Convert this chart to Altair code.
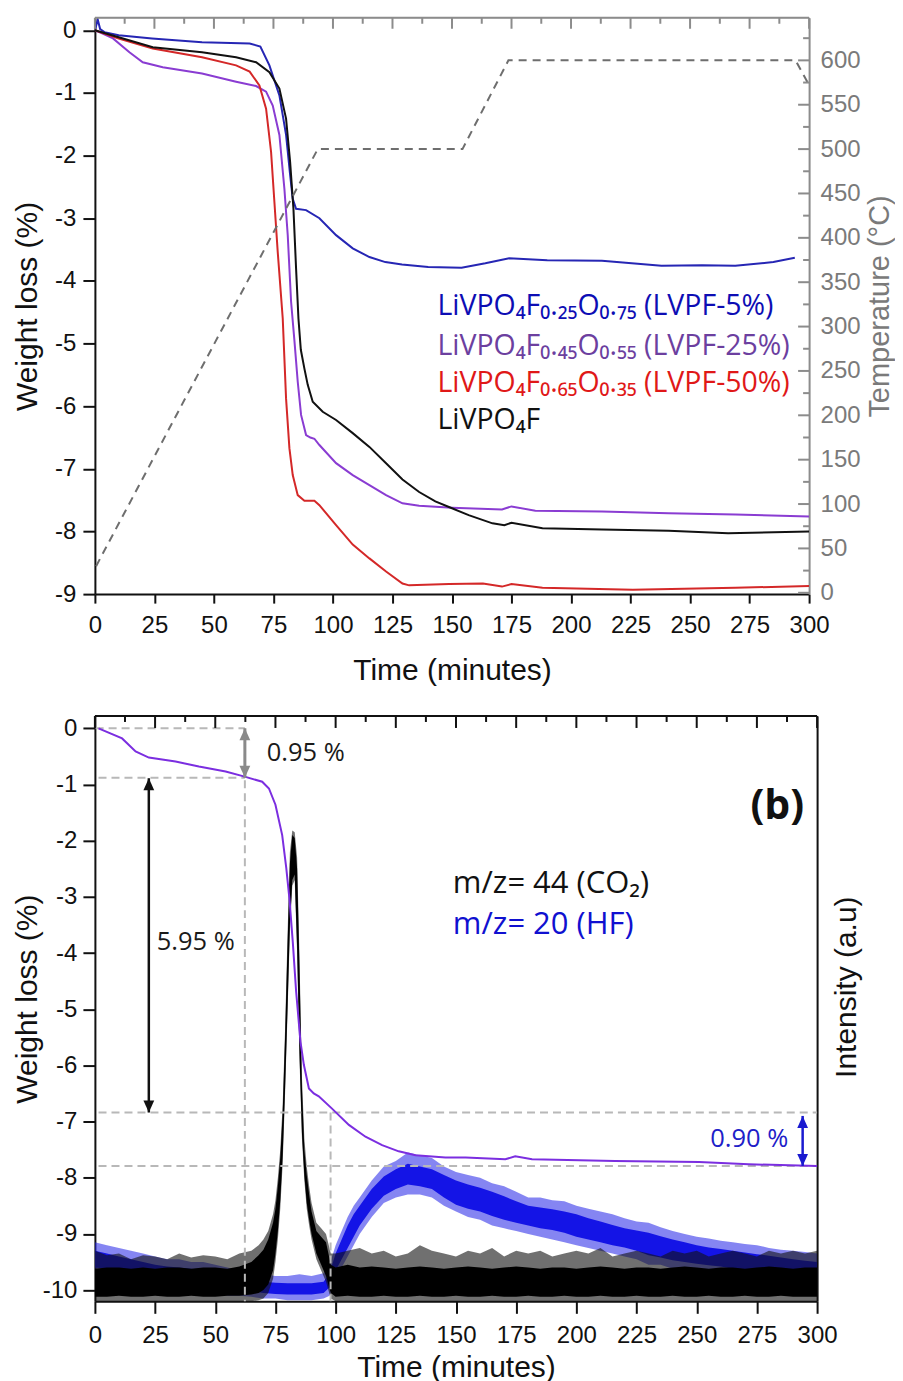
import altair as alt
import pandas as pd

AX_FONT = "Liberation Sans"
TX_FONT = "Open Sans"

WA, HA = 715, 577
WB, HB = 723, 586

X_DOMAIN = [0, 300]
WA_DOMAIN = [-9, 0.2]
T_DOMAIN = [-1.5, 648]
WB_DOMAIN = [-10.2, 0.22]

# ---------------- tick values ----------------
x_tick_values = [0, 12.5, 25, 37.5, 50, 62.5, 75, 87.5, 100, 112.5, 125, 137.5, 150, 162.5,
                 175, 187.5, 200, 212.5, 225, 237.5, 250, 262.5, 275, 287.5, 300]
x_major = [0, 25, 50, 75, 100, 125, 150, 175, 200, 225, 250, 275, 300]
x_minor = [12.5, 37.5, 62.5, 87.5, 112.5, 137.5, 162.5, 187.5, 212.5, 237.5, 262.5, 287.5]
ya_tick_values = [-9, -8.5, -8, -7.5, -7, -6.5, -6, -5.5, -5, -4.5, -4, -3.5, -3, -2.5, -2,
                  -1.5, -1, -0.5, 0]
yb_tick_values = [-10, -9.5, -9, -8.5, -8, -7.5, -7, -6.5, -6, -5.5, -5, -4.5, -4, -3.5, -3,
                  -2.5, -2, -1.5, -1, -0.5, 0]
temp_major = [0, 50, 100, 150, 200, 250, 300, 350, 400, 450, 500, 550, 600]
temp_minor = [25, 75, 125, 175, 225, 275, 325, 375, 425, 475, 525, 575, 625]

# ---------------- panel (a) data ----------------
SERIES_A = ["LVPF-5%", "LVPF-25%", "LVPF-50%", "LiVPO4F"]
COLORS_A = ["#2626b4", "#8a3cd2", "#d42828", "#111111"]

blue_t = [0, 1.2, 2.2, 4, 10, 24, 45, 65, 69.5, 73.3, 77.5, 80.3, 82, 83.1, 84.5, 88.7, 94.3,
          101.3, 108.3, 115.3, 122, 129, 140, 154, 164, 174, 190, 213, 238, 255, 269, 285, 294]
blue_w = [0, 0.17, 0.02, -0.03, -0.08, -0.13, -0.19, -0.21, -0.26, -0.56, -1.04, -1.67, -2.31,
          -2.69, -2.85, -2.87, -3.0, -3.27, -3.48, -3.62, -3.70, -3.74, -3.78, -3.79, -3.72,
          -3.64, -3.67, -3.68, -3.76, -3.75, -3.76, -3.70, -3.63]

purple_t = [0, 3, 7.6, 14.5, 20.1, 28.5, 45, 59.3, 67.7, 71.9, 74.7, 77.5, 79.6, 81, 82.4, 83.8,
            85.2, 86.6, 88.7, 90.5, 92.2, 94.3, 101.3, 108.3, 115.3, 122.3, 129.2, 136.2, 150,
            171, 175, 185, 213, 241, 269, 300]
purple_w = [0, -0.05, -0.13, -0.35, -0.51, -0.59, -0.69, -0.82, -0.89, -0.98, -1.2, -1.67, -2.53,
            -3.27, -4.33, -4.95, -5.61, -6.14, -6.46, -6.5, -6.52, -6.62, -6.91, -7.10, -7.26,
            -7.42, -7.55, -7.59, -7.62, -7.65, -7.60, -7.67, -7.68, -7.71, -7.73, -7.76]

red_t = [0, 10, 24.3, 45, 59.3, 65, 69.1, 71.9, 74, 75.4, 76.8, 78.9, 80.3, 81.7, 83.1, 85.2, 88,
         92.2, 94.3, 101.3, 108.3, 115.3, 122.3, 129.2, 132, 148.8, 163, 171, 175, 188, 226, 269, 300]
red_w = [0, -0.13, -0.29, -0.43, -0.56, -0.66, -0.88, -1.25, -1.94, -2.74, -3.54, -4.60, -5.88,
         -6.67, -7.10, -7.42, -7.51, -7.51, -7.58, -7.90, -8.21, -8.43, -8.64, -8.83, -8.86, -8.84,
         -8.83, -8.88, -8.84, -8.90, -8.93, -8.90, -8.87]

black_t = [0, 10, 24.3, 45, 59.3, 67.7, 73.3, 77.5, 80.3, 82, 83.4, 84.5, 85.5, 86.5, 88, 89.4,
           91.5, 95.7, 101.3, 108.3, 115.3, 122.3, 129.2, 136.2, 143, 150, 157, 167, 172, 175,
           188, 213, 241, 266, 300]
black_w = [0, -0.11, -0.27, -0.35, -0.43, -0.51, -0.67, -0.93, -1.41, -2.10, -2.85, -3.80, -4.6,
           -5.1, -5.4, -5.66, -5.93, -6.09, -6.22, -6.43, -6.65, -6.91, -7.17, -7.37, -7.52,
           -7.63, -7.74, -7.87, -7.9, -7.86, -7.95, -7.97, -7.99, -8.03, -8.0]

temp_t = [0.5, 93.6, 154.4, 173.7, 294.3, 300]
temp_v = [30, 500, 500, 600, 600, 572]

legend_a_text = ["LiVPO₄F₀.₂₅O₀.₇₅ (LVPF-5%)", "LiVPO₄F₀.₄₅O₀.₅₅ (LVPF-25%)",
                 "LiVPO₄F₀.₆₅O₀.₃₅ (LVPF-50%)", "LiVPO₄F"]
legend_a_t = [143.9, 143.9, 143.9, 143.9]
legend_a_w = [-4.54, -5.19, -5.78, -6.37]
legend_a_col = ["#0d0db4", "#6c3f9f", "#e01818", "#111111"]

# ---------------- panel (b) data ----------------
tga_b_t = [1.5, 11.3, 16.9, 22.4, 33.5, 43.2, 54.3, 62.2, 69.5, 72.3, 75, 77.8, 79.5, 80.8, 82.2,
           83.6, 85.4, 86.8, 88.9, 90.9, 93, 98.5, 105.5, 112.4, 119.3, 126.2, 133.2, 145.6, 154,
           170.5, 174.6, 181.6, 216, 251, 271.6, 300]
tga_b_w = [0, -0.18, -0.41, -0.52, -0.59, -0.68, -0.77, -0.86, -0.95, -1.07, -1.36, -1.90, -2.49,
           -3.03, -3.80, -4.69, -5.58, -5.99, -6.41, -6.50, -6.55, -6.77, -7.06, -7.27, -7.42,
           -7.53, -7.60, -7.64, -7.64, -7.67, -7.62, -7.67, -7.70, -7.72, -7.76, -7.79]

hf_t = [0, 5, 10, 15, 20, 25, 30, 35, 40, 45, 50, 55, 60, 65, 70, 75, 80, 85, 90, 95,
        97.5, 100, 102.5, 105, 107.5, 110,
        115, 120, 125, 130, 135, 140, 145, 150, 155, 160,
        165, 170, 175, 180, 185, 190, 195, 200, 205, 210,
        215, 220, 225, 230, 235, 240, 245, 250, 255, 260,
        265, 270, 275, 280, 285, 290, 295, 300]
hf_lo = [-9.6, -9.62, -9.68, -9.72, -9.75, -9.8, -9.82, -9.85, -9.88, -9.9, -9.92, -9.95, -9.98,
         -10.02, -10.05, -10.07, -10.08, -10.08, -10.08, -10.05,
         -9.95, -9.65, -9.45, -9.25, -9.05, -8.85,
         -8.55, -8.32, -8.2, -8.12, -8.15, -8.2, -8.35, -8.48, -8.55, -8.6,
         -8.68, -8.75, -8.8, -8.85, -8.9, -8.93, -8.98, -9.05, -9.1, -9.15,
         -9.2, -9.24, -9.3, -9.38, -9.42, -9.47, -9.5, -9.53, -9.56, -9.58,
         -9.62, -9.65, -9.68, -9.71, -9.74, -9.77, -9.78, -9.8]
hf_hi = [-9.3, -9.35, -9.4, -9.45, -9.5, -9.55, -9.58, -9.6, -9.62, -9.65, -9.68, -9.72, -9.78,
         -9.82, -9.85, -9.87, -9.88, -9.88, -9.88, -9.85,
         -9.7, -9.35, -9.1, -8.85, -8.65, -8.5,
         -8.2, -7.98, -7.85, -7.75, -7.8, -7.85, -7.95, -8.05, -8.12, -8.18,
         -8.25, -8.33, -8.42, -8.5, -8.53, -8.56, -8.6, -8.65, -8.72, -8.78,
         -8.84, -8.9, -8.94, -8.98, -9.04, -9.1, -9.15, -9.2, -9.24, -9.27,
         -9.3, -9.33, -9.36, -9.39, -9.42, -9.45, -9.48, -9.5]
hf_lo2 = [-9.7, -9.75, -9.8, -9.85, -9.9, -9.95, -9.95, -10.0, -10.0, -10.05, -10.05, -10.1, -10.1,
          -10.12, -10.15, -10.15, -10.18, -10.18, -10.18, -10.15,
          -10.1, -9.8, -9.6, -9.4, -9.2, -9.0,
          -8.7, -8.45, -8.35, -8.3, -8.3, -8.35, -8.5, -8.6, -8.7, -8.75,
          -8.85, -8.9, -8.95, -9.0, -9.05, -9.1, -9.15, -9.2, -9.25, -9.3,
          -9.35, -9.4, -9.45, -9.55, -9.55, -9.62, -9.65, -9.68, -9.7, -9.72,
          -9.76, -9.8, -9.82, -9.85, -9.88, -9.9, -9.92, -9.95]
hf_hi2 = [-9.15, -9.2, -9.25, -9.3, -9.35, -9.4, -9.45, -9.45, -9.5, -9.5, -9.55, -9.6, -9.65,
          -9.7, -9.72, -9.75, -9.75, -9.72, -9.75, -9.7,
          -9.55, -9.2, -8.95, -8.7, -8.5, -8.35,
          -8.05, -7.8, -7.7, -7.55, -7.6, -7.65, -7.8, -7.9, -7.95, -8.0,
          -8.1, -8.15, -8.25, -8.35, -8.35, -8.4, -8.42, -8.5, -8.55, -8.6,
          -8.65, -8.72, -8.78, -8.8, -8.88, -8.95, -9.0, -9.05, -9.08, -9.12,
          -9.15, -9.18, -9.2, -9.25, -9.28, -9.3, -9.32, -9.35]

co2_t = [0, 5, 10, 15, 20, 25, 30, 35, 40, 45, 50, 55, 60, 65,
         68, 70, 72, 74,
         75, 76, 77, 78, 79, 80, 81, 82, 83, 84, 85, 86, 87, 88, 89, 90,
         92, 94, 96, 98,
         100, 105, 110, 115, 120, 125, 130, 135, 140, 145,
         150, 155, 160, 165, 170, 175, 180, 185, 190, 195,
         200, 205, 210, 215, 220, 225, 230, 235, 240, 245,
         250, 255, 260, 265, 270, 275, 280, 285, 290, 295, 300]
co2_lo = [-10.12, -10.12, -10.1, -10.12, -10.12, -10.1, -10.12, -10.12, -10.1, -10.12, -10.12,
          -10.1, -10.1, -10.08,
          -10.05, -10.0, -9.9, -9.65,
          -9.35, -8.95, -8.4, -7.6, -6.4, -5.0, -3.5, -2.7, -2.6, -3.9, -5.8, -7.2, -7.95, -8.45,
          -8.75, -9.0,
          -9.35, -9.55, -9.75, -10.05,
          -10.12, -10.1, -10.12, -10.12, -10.1, -10.12, -10.12, -10.1, -10.12, -10.12,
          -10.1, -10.12, -10.12, -10.1, -10.12, -10.12, -10.1, -10.12, -10.12, -10.1,
          -10.12, -10.12, -10.1, -10.12, -10.12, -10.1, -10.12, -10.12, -10.1, -10.12,
          -10.12, -10.1, -10.12, -10.12, -10.1, -10.12, -10.12, -10.1, -10.12, -10.12, -10.12]
co2_hi = [-9.62, -9.6, -9.6, -9.62, -9.6, -9.62, -9.6, -9.6, -9.62, -9.6, -9.6, -9.62, -9.58, -9.5,
          -9.38, -9.28, -9.1, -8.8,
          -8.55, -8.15, -7.65, -6.85, -5.5, -3.9, -2.4, -1.9, -1.95, -2.5, -4.3, -6.4, -7.5, -7.95,
          -8.3, -8.6,
          -8.95, -9.05, -9.15, -9.55,
          -9.6, -9.55, -9.6, -9.58, -9.6, -9.62, -9.6, -9.58, -9.6, -9.62,
          -9.6, -9.58, -9.6, -9.62, -9.6, -9.58, -9.6, -9.62, -9.6, -9.6,
          -9.62, -9.6, -9.58, -9.6, -9.62, -9.6, -9.6, -9.62, -9.6, -9.58,
          -9.6, -9.62, -9.6, -9.6, -9.62, -9.6, -9.58, -9.6, -9.62, -9.6, -9.6]
co2_lo2 = [-10.2, -10.2, -10.2, -10.2, -10.2, -10.2, -10.2, -10.2, -10.2, -10.2, -10.2, -10.2,
           -10.2, -10.2,
           -10.18, -10.15, -10.05, -9.8,
           -9.5, -9.1, -8.55, -7.75, -6.5, -5.1, -3.6, -2.8, -2.7, -4.0, -5.9, -7.3, -8.05, -8.55,
           -8.85, -9.1,
           -9.45, -9.65, -9.85, -10.15,
           -10.2, -10.2, -10.2, -10.2, -10.2, -10.2, -10.2, -10.2, -10.2, -10.2,
           -10.2, -10.2, -10.2, -10.2, -10.2, -10.2, -10.2, -10.2, -10.2, -10.2,
           -10.2, -10.2, -10.2, -10.2, -10.2, -10.2, -10.2, -10.2, -10.2, -10.2,
           -10.2, -10.2, -10.2, -10.2, -10.2, -10.2, -10.2, -10.2, -10.2, -10.2, -10.2]
co2_hi2 = [-9.3, -9.38, -9.35, -9.45, -9.38, -9.4, -9.45, -9.35, -9.42, -9.38, -9.4, -9.45, -9.35,
           -9.3,
           -9.2, -9.1, -8.95, -8.65,
           -8.4, -8.0, -7.5, -6.7, -5.35, -3.7, -2.2, -1.82, -1.85, -2.3, -4.1, -6.2, -7.3, -7.8,
           -8.15, -8.45,
           -8.8, -8.9, -9.0, -9.35,
           -9.35, -9.3, -9.25, -9.35, -9.3, -9.4, -9.35, -9.2, -9.3, -9.35,
           -9.4, -9.3, -9.35, -9.25, -9.4, -9.3, -9.35, -9.3, -9.4, -9.35,
           -9.3, -9.35, -9.25, -9.4, -9.35, -9.3, -9.35, -9.4, -9.3, -9.35,
           -9.3, -9.4, -9.35, -9.3, -9.35, -9.4, -9.3, -9.35, -9.3, -9.35, -9.3]

# dashed guide lines in (b)
guide_h_x0 = [0.3, 1.5, 1.5, 1.5]
guide_h_x1 = [62.3, 62.3, 300, 300]
guide_h_y = [0, -0.88, -6.84, -7.79]
guide_v_x = [62.3, 97.9]
guide_v_y0 = [0, -6.84]
guide_v_y1 = [-10.2, -10.2]

# arrows in (b)
arrow_x = [62.3, 22.4, 294]
arrow_top = [0, -0.89, -6.9]
arrow_bot = [-0.88, -6.84, -7.79]
arrow_col = ["#8a8a8a", "#111111", "#1a1ad0"]
arrow_wid = [3, 2.5, 2.5]

# text annotations in (b)
ann_left_text = ["0.95 %", "5.95 %", "m/z= 44 (CO₂)", "m/z= 20 (HF)"]
ann_left_t = [71.4, 25.7, 148.7, 148.7]
ann_left_w = [-0.44, -3.80, -2.78, -3.51]
ann_left_col = ["#1a1a1a", "#1a1a1a", "#111111", "#1010d0"]
ann_left_size = [25.5, 25.5, 31, 31]

# ---------------- helpers ----------------
xs = alt.Scale(domain=X_DOMAIN, nice=False, zero=False)
ya = alt.Scale(domain=WA_DOMAIN, nice=False, zero=False)
ts = alt.Scale(domain=T_DOMAIN, nice=False, zero=False)
yb = alt.Scale(domain=WB_DOMAIN, nice=False, zero=False)
yi = alt.Scale(domain=WB_DOMAIN, nice=False, zero=False)

LABEL_FS = 24
TITLE_FS = 30


def x_axis(major_len, minor_len, label_pad, title_pad):
    return alt.Axis(
        values=x_tick_values, title="Time (minutes)",
        labelExpr="datum.value % 25 === 0 ? '' + datum.value : ''",
        tickSize={"condition": {"test": "datum.value % 25 === 0", "value": major_len}, "value": minor_len},
        tickWidth=2, tickColor="#111", domainColor="#111", domainWidth=2,
        labelPadding=label_pad, titlePadding=title_pad, labelFlush=False, labelOverlap=False,
        labelFont=AX_FONT, labelFontSize=LABEL_FS, titleFont=AX_FONT, titleFontSize=TITLE_FS,
        titleFontWeight="normal", labelColor="#111", titleColor="#111", grid=False)


def y_axis(values, label_pad, title_pad, **extra):
    return alt.Axis(
        values=values, title="Weight loss (%)", orient="left",
        labelExpr="datum.value % 1 === 0 ? '' + datum.value : ''",
        tickSize={"condition": {"test": "datum.value % 1 === 0", "value": 12}, "value": 6},
        tickWidth=2, tickColor="#111", domainColor="#111", domainWidth=2,
        labelPadding=label_pad, titlePadding=title_pad, labelFlush=False, labelOverlap=False,
        labelFont=AX_FONT, labelFontSize=LABEL_FS, titleFont=AX_FONT, titleFontSize=TITLE_FS,
        titleFontWeight="normal", labelColor="#111", titleColor="#111", grid=False, **extra)


def top_frame(width, color, major_len, minor_len):
    border = alt.Chart(pd.DataFrame({"k": [0]})).mark_rule(color=color, strokeWidth=2).encode(
        x=alt.value(0), x2=alt.value(width), y=alt.value(0))
    maj = alt.Chart(pd.DataFrame({"v": x_major})).mark_rule(color=color, strokeWidth=2).encode(
        x=alt.X("v:Q", scale=xs), y=alt.value(0), y2=alt.value(major_len))
    mnr = alt.Chart(pd.DataFrame({"v": x_minor})).mark_rule(color=color, strokeWidth=2).encode(
        x=alt.X("v:Q", scale=xs), y=alt.value(0), y2=alt.value(minor_len))
    return [border, maj, mnr]


# ================= PANEL (a) =================
frames = []
for name, tt, ww in zip(SERIES_A, [blue_t, purple_t, red_t, black_t],
                        [blue_w, purple_w, red_w, black_w]):
    frames.append(pd.DataFrame({"t": tt, "w": ww, "s": name}))
dfA = pd.concat(frames, ignore_index=True)

lines_a = alt.Chart(dfA).mark_line(strokeWidth=2, clip=True).encode(
    x=alt.X("t:Q", scale=xs, axis=x_axis(9, 5, 10, 18)),
    y=alt.Y("w:Q", scale=ya, axis=y_axis(ya_tick_values, 7, 12)),
    color=alt.Color("s:N", scale=alt.Scale(domain=SERIES_A, range=COLORS_A), legend=None),
    detail="s:N",
)

legend_df = pd.DataFrame({"t": legend_a_t, "w": legend_a_w, "label": legend_a_text, "c": legend_a_col})
legend_a = alt.Chart(legend_df).mark_text(align="left", baseline="alphabetic", font=TX_FONT,
                                          fontSize=28.5).encode(
    x=alt.X("t:Q", scale=xs), y=alt.Y("w:Q", scale=ya),
    text="label:N", color=alt.Color("c:N", scale=None))

weight_group_a = alt.layer(lines_a, legend_a, *top_frame(WA, "#8c8c8c", 11, 6))

temp_df = pd.DataFrame({"t": temp_t, "T": temp_v})
temp_line = alt.Chart(temp_df).mark_line(strokeDash=[8, 6], strokeWidth=2, color="#6e6e6e").encode(
    x=alt.X("t:Q", scale=xs),
    y=alt.Y("T:Q", scale=ts, axis=alt.Axis(
        orient="right", values=temp_major, labelExpr="'' + datum.value", ticks=False, tickSize=0,
        labelPadding=11, domainColor="#8c8c8c", domainWidth=2, labelColor="#7a7a7a",
        title="Temperature (°C)", titleColor="#7a7a7a", titlePadding=5, titleAngle=270,
        titleBaseline="top", labelFont=AX_FONT,
        labelFontSize=LABEL_FS, titleFont=AX_FONT, titleFontSize=29, titleFontWeight="normal",
        labelFlush=False, labelOverlap=False, grid=False)))
temp_maj = alt.Chart(pd.DataFrame({"v": temp_major})).mark_rule(color="#8c8c8c", strokeWidth=2).encode(
    y=alt.Y("v:Q", scale=ts), x=alt.value(WA - 11), x2=alt.value(WA))
temp_min = alt.Chart(pd.DataFrame({"v": temp_minor})).mark_rule(color="#8c8c8c", strokeWidth=2).encode(
    y=alt.Y("v:Q", scale=ts), x=alt.value(WA - 6), x2=alt.value(WA))
temp_group = alt.layer(temp_line, temp_maj, temp_min)

panel_a = alt.layer(weight_group_a, temp_group).resolve_scale(y="independent").properties(
    width=WA, height=HA)

# ================= PANEL (b) =================
hf_df = pd.DataFrame({"t": hf_t, "lo": hf_lo, "hi": hf_hi, "lo2": hf_lo2, "hi2": hf_hi2})
co2_df = pd.DataFrame({"t": co2_t, "lo": co2_lo, "hi": co2_hi, "lo2": co2_lo2, "hi2": co2_hi2})

int_axis = alt.Axis(orient="right", title="Intensity (a.u)", ticks=False, tickSize=0, labels=False,
                    domainColor="#111", domainWidth=2, titlePadding=14, titleAngle=270,
                    titleBaseline="top", titleY=271, titleFont=AX_FONT,
                    titleFontSize=TITLE_FS, titleFontWeight="normal", titleColor="#111", grid=False)


def band(df, lo, hi, color, opacity, axis=None):
    if axis is not None:
        yenc = alt.Y(f"{lo}:Q", scale=yi, axis=axis)
    else:
        yenc = alt.Y(f"{lo}:Q", scale=yi)
    return alt.Chart(df).mark_area(color=color, opacity=opacity, clip=True, interpolate="linear").encode(
        x=alt.X("t:Q", scale=xs), y=yenc, y2=alt.Y2(f"{hi}:Q"))


ms_group = alt.layer(
    band(hf_df, "lo2", "hi2", "#2020e8", 0.55, int_axis),
    band(hf_df, "lo", "hi", "#1414e6", 1.0),
    band(co2_df, "lo2", "hi2", "#111111", 0.6),
    band(co2_df, "lo", "hi", "#000000", 1.0),
)

gh_df = pd.DataFrame({"x0": guide_h_x0, "x1": guide_h_x1, "y": guide_h_y})
gv_df = pd.DataFrame({"x": guide_v_x, "y0": guide_v_y0, "y1": guide_v_y1})
guides_h = alt.Chart(gh_df).mark_rule(color="#b8b8b8", strokeWidth=2, strokeDash=[8, 5]).encode(
    x=alt.X("x0:Q", scale=xs), x2="x1:Q", y=alt.Y("y:Q", scale=yb))
guides_v = alt.Chart(gv_df).mark_rule(color="#b8b8b8", strokeWidth=2, strokeDash=[8, 5]).encode(
    x=alt.X("x:Q", scale=xs), y=alt.Y("y0:Q", scale=yb), y2="y1:Q")

tga_b = alt.Chart(pd.DataFrame({"t": tga_b_t, "w": tga_b_w})).mark_line(
    color="#7b2ee0", strokeWidth=2, clip=True).encode(
    x=alt.X("t:Q", scale=xs, axis=x_axis(12, 7, 10, 5)),
    y=alt.Y("w:Q", scale=yb, axis=y_axis(yb_tick_values, 6, 0, titleY=283)))

arrow_df = pd.DataFrame({"x": arrow_x, "top": arrow_top, "bot": arrow_bot, "c": arrow_col,
                         "sw": arrow_wid})
shafts = alt.Chart(arrow_df).mark_rule().encode(
    x=alt.X("x:Q", scale=xs), y=alt.Y("top:Q", scale=yb), y2="bot:Q",
    color=alt.Color("c:N", scale=None), strokeWidth=alt.StrokeWidth("sw:Q", scale=None))
head_off = 0.107
heads_up = alt.Chart(arrow_df).transform_calculate(hy=f"datum.top - {head_off}").mark_point(
    shape="M0,-1L0.9,1L-0.9,1Z", filled=True, size=144, opacity=1).encode(
    x=alt.X("x:Q", scale=xs), y=alt.Y("hy:Q", scale=yb),
    color=alt.Color("c:N", scale=None))
heads_dn = alt.Chart(arrow_df).transform_calculate(hy=f"datum.bot + {head_off}").mark_point(
    shape="M0,1L0.9,-1L-0.9,-1Z", filled=True, size=144, opacity=1).encode(
    x=alt.X("x:Q", scale=xs), y=alt.Y("hy:Q", scale=yb),
    color=alt.Color("c:N", scale=None))

ann_df = pd.DataFrame({"t": ann_left_t, "w": ann_left_w, "label": ann_left_text,
                       "c": ann_left_col, "fs": ann_left_size})
ann_left = alt.Chart(ann_df).mark_text(align="left", baseline="middle", font=TX_FONT).encode(
    x=alt.X("t:Q", scale=xs), y=alt.Y("w:Q", scale=yb),
    text="label:N", color=alt.Color("c:N", scale=None), size=alt.Size("fs:Q", scale=None))
ann_090 = alt.Chart(pd.DataFrame({"t": [288.0], "w": [-7.31], "label": ["0.90 %"]})).mark_text(
    align="right", baseline="middle", font=TX_FONT, fontSize=25.5, color="#2020c8").encode(
    x=alt.X("t:Q", scale=xs), y=alt.Y("w:Q", scale=yb), text="label:N")
ann_b = alt.Chart(pd.DataFrame({"t": [294.6], "w": [-1.40], "label": ["(b)"]})).mark_text(
    align="right", baseline="middle", font=TX_FONT, fontSize=41, fontWeight="bold",
    color="#111111").encode(
    x=alt.X("t:Q", scale=xs), y=alt.Y("w:Q", scale=yb), text="label:N")

weight_group_b = alt.layer(guides_h, guides_v, tga_b, shafts, heads_up, heads_dn,
                           ann_left, ann_090, ann_b, *top_frame(WB, "#111111", 12, 6))

panel_b = alt.layer(ms_group, weight_group_b).resolve_scale(y="independent").properties(
    width=WB, height=HB)

chart = alt.concat(panel_a, panel_b, columns=1, spacing=28).properties(
    padding={"left": 3, "top": 7, "right": 0, "bottom": 0}
).configure_view(stroke=None).configure(background="white")

chart.save("out.html", embed_options={"renderer": "svg", "actions": False})
